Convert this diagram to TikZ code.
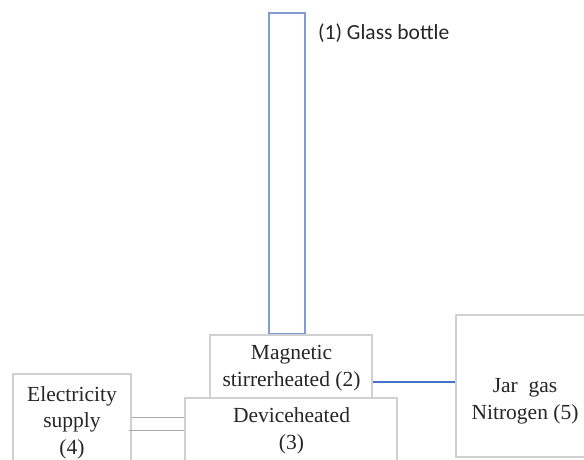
\documentclass[tikz,border=0pt]{standalone}
\usepackage{fontspec}
\setmainfont{Liberation Serif}
\newfontfamily\calfont{Carlito}
\definecolor{boxgray}{HTML}{D0D0D0}
\definecolor{linegray}{HTML}{A8A8A8}
\definecolor{bblue}{HTML}{4472C4}
\definecolor{bottleblue}{HTML}{7F9DD4}
\definecolor{txt}{HTML}{262626}
\begin{document}
\begin{tikzpicture}[x=1pt,y=-1pt,
  graybox/.style={draw=boxgray,line width=1.3pt,fill=white,rectangle,inner sep=0pt},
  txtnode/.style={text=txt,align=center,inner sep=0pt,font=\fontsize{21.5}{26.5}\selectfont},
  bluecon/.style={draw=bblue,line width=1.4pt},
  graycon/.style={draw=linegray,line width=1pt}]
\clip (0,0) rectangle (584,459);
\fill[white] (0,0) rectangle (584,459);
% boxes
\node[draw=bottleblue,line width=1.4pt,rectangle,inner sep=0pt,minimum width=36pt,minimum height=321pt] (bottle) at (287,173.5) {};
\node[graybox,minimum width=162pt,minimum height=94pt] (mag) at (291,382) {};
\node[graybox,minimum width=212pt,minimum height=100pt] (dev) at (291,448) {};
\node[graybox,minimum width=118pt,minimum height=120pt] (elec) at (72,434) {};
\node[graybox,minimum width=140pt,minimum height=142pt] (jar) at (526,386) {};
% texts
\node[anchor=west,inner sep=0pt,text=txt,font=\calfont\fontsize{21.5}{26}\selectfont] (glab) at (318,33) {(1) Glass bottle};
\node[txtnode] (magt) at (291.5,368) {Magnetic\\stirrerheated (2)};
\node[txtnode] (devt) at (291.5,431) {Deviceheated\\(3)};
\node[txtnode] (elect) at (72,422.5) {Electricity\\supply\\(4)};
\node[txtnode] (jart) at (525,401.5) {Jar\ \ gas\\Nitrogen (5)};
% connectors
\draw[bluecon] (mag.east) -- (jar.west |- mag.east);
\draw[graycon] (elec.east |- 0,417) -- (dev.west |- 0,417);
\draw[graycon] ([xshift=-3pt]elec.east |- 0,430) -- (dev.west |- 0,430);
\end{tikzpicture}
\end{document}
